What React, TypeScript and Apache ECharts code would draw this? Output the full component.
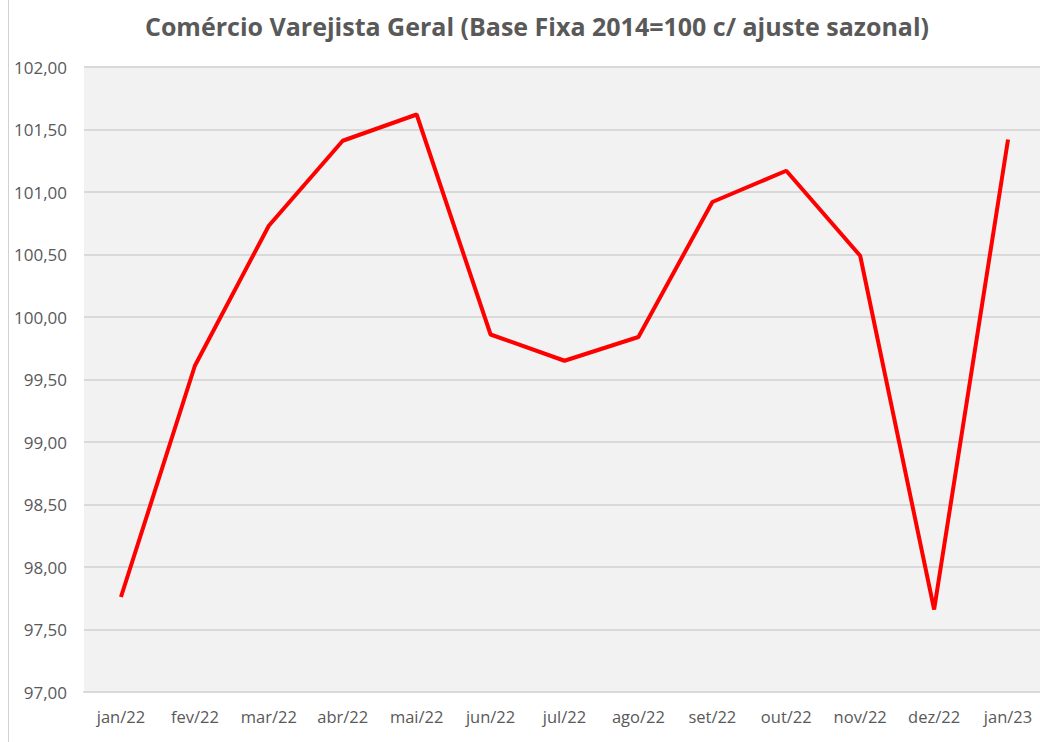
import React, { useEffect, useRef } from "react";
import * as echarts from "echarts";

const categories = ["jan/22", "fev/22", "mar/22", "abr/22", "mai/22", "jun/22", "jul/22", "ago/22", "set/22", "out/22", "nov/22", "dez/22", "jan/23"];
const values = [97.76, 99.61, 100.73, 101.41, 101.62, 99.86, 99.65, 99.84, 100.92, 101.17, 100.49, 97.66, 101.42];
const yMin = 97;
const yMax = 102;
const yInterval = 0.5;
const title = "Comércio Varejista Geral (Base Fixa 2014=100 c/ ajuste sazonal)";

export default function App() {
  const ref = useRef<HTMLDivElement>(null);
  useEffect(() => {
    if (!ref.current) return;
    const chart = echarts.init(ref.current, undefined, { renderer: "svg" });
    chart.setOption({
      animation: false,
      backgroundColor: "#ffffff",
      title: {
        text: title,
        left: 532,
        textAlign: "center",
        top: 8,
        textStyle: { fontFamily: "Open Sans", fontWeight: "bold", fontSize: 25, color: "#595959" },
      },
      graphic: [
        { type: "line", shape: { x1: 8.5, y1: 0, x2: 8.5, y2: 742 }, style: { stroke: "#d0d0d0", lineWidth: 1 } },
      ],
      grid: { left: 84, top: 67, width: 961, height: 625, show: true, backgroundColor: "#f2f2f2", borderWidth: 0 },
      xAxis: {
        type: "category",
        data: categories,
        boundaryGap: true,
        axisLine: { show: true, lineStyle: { color: "#d9d9d9", width: 2 } },
        axisTick: { show: false },
        axisLabel: { color: "#595959", fontFamily: "Open Sans", fontSize: 16.5, margin: 16 },
      },
      yAxis: {
        type: "value",
        min: yMin,
        max: yMax,
        interval: yInterval,
        axisLine: { show: false },
        axisTick: { show: false },
        splitLine: { lineStyle: { color: "#d9d9d9", width: 2 } },
        axisLabel: {
          color: "#595959",
          fontFamily: "Open Sans",
          fontSize: 17,
          margin: 17,
          formatter: (v: number) => v.toFixed(2).replace(".", ","),
        },
      },
      series: [
        {
          type: "line",
          data: values,
          symbol: "none",
          lineStyle: { color: "#ff0000", width: 4 },
        },
      ],
    });
    return () => chart.dispose();
  }, []);
  return (
    <div style={{ position: "fixed", left: 0, top: 0, width: 1040, height: 742, overflow: "hidden" }}>
      <div ref={ref} style={{ width: 1050, height: 742 }} />
    </div>
  );
}
